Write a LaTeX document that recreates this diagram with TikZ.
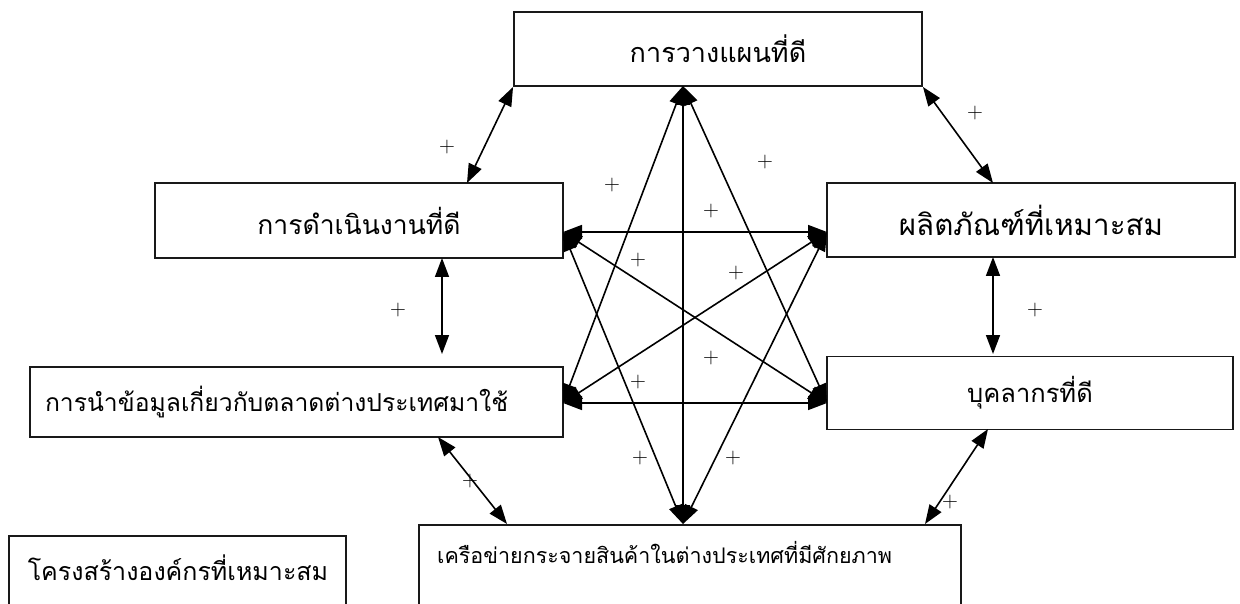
\documentclass[tikz,border=0pt]{standalone}
\usepackage{fontspec}
\newfontfamily\thaifont[Script=Thai]{Loma}
\usetikzlibrary{arrows.meta}
\newcommand{\tsz}[1]{\thaifont\fontsize{#1}{#1}\selectfont}
\begin{document}
\begin{tikzpicture}[x=1pt,y=-1pt,
  box/.style={draw=black!90, line width=1.9pt, inner sep=0pt, fill=white},
  txt/.style={inner sep=0pt},
  link/.style={line width=1.6pt, {Triangle[length=19pt,width=14pt]}-{Triangle[length=19pt,width=14pt]}},
  pl/.style={inner sep=0pt, font=\fontsize{22}{22}\selectfont}]
\path[use as bounding box, clip] (0,0) rectangle (1240,604);
\fill[white] (0,0) rectangle (1240,604);

% boxes
\node[box, minimum width=408pt, minimum height=74pt, font=\tsz{27}] (plan) at (718,49) {การวางแผนที่ดี};
\node[box, minimum width=408pt, minimum height=75pt, font=\tsz{26.5}] (oper) at (359,220.5) {การดำเนินงานที่ดี};
\node[box, minimum width=408pt, minimum height=74pt, font=\tsz{29.5}] (prod) at (1031,220) {ผลิตภัณฑ์ที่เหมาะสม};
\node[box, minimum width=533pt, minimum height=70pt, text width=503pt, inner xsep=15pt, align=left, font=\tsz{24.7}] (info) at (296.5,402) {การนำข้อมูลเกี่ยวกับตลาดต่างประเทศมาใช้};
\node[box, minimum width=406pt, minimum height=73pt, font=\tsz{25.5}] (staff) at (1030,393) {บุคลากรที่ดี};
\node[box, anchor=north west, minimum width=542pt, minimum height=120pt] (dist) at (418,524) {};
\node[txt, anchor=west, font=\tsz{21.5}] (distT) at (437,553) {เครือข่ายกระจายสินค้าในต่างประเทศที่มีศักยภาพ};
\node[box, anchor=north west, minimum width=337pt, minimum height=110pt] (org) at (8,535) {};
\node[txt, font=\tsz{25}] (orgT) at (178,568) {โครงสร้างองค์กรที่เหมาะสม};

% inner star points
\coordinate (pT) at (683,86);
\coordinate (pUL) at (563,232);
\coordinate (pUR) at (827,232);
\coordinate (pLL) at (563,403);
\coordinate (pLR) at (827,403);
\coordinate (pB) at (683,524);

\draw[link] (pT) -- (pB);
\draw[link] (pT) -- (pLL);
\draw[link] (pT) -- (pLR);
\draw[link] (pUL) -- (pUR);
\draw[link] (pLL) -- (pLR);
\draw[link] (pUL) -- (pLR);
\draw[link] (pLL) -- (pUR);
\draw[link] (pUL) -- (pB);
\draw[link] (pUR) -- (pB);

% outer arrows
\coordinate (a1) at (467,183);
\coordinate (a2) at (993,183);
\coordinate (a3s) at (442,258);
\coordinate (a3e) at (442,354);
\coordinate (a4s) at (993,257);
\coordinate (a4e) at (993,354);
\coordinate (a5s) at (438,437);
\coordinate (a5e) at (507,524);
\coordinate (a6s) at (988,429);
\coordinate (a6e) at (925,524);
\draw[link] (plan.south west) -- (a1);
\draw[link] (plan.south east) -- (a2);
\draw[link] (a3s) -- (a3e);
\draw[link] (a4s) -- (a4e);
\draw[link] (a5s) -- (a5e);
\draw[link] (a6s) -- (a6e);

% plus signs
\node[pl] (q1) at (447,147) {+};
\node[pl] (q2) at (975,113) {+};
\node[pl] (q3) at (398,310) {+};
\node[pl] (q4) at (1035,310) {+};
\node[pl] (q5) at (470,481) {+};
\node[pl] (q6) at (950,502) {+};
\node[pl] (q7) at (612,185) {+};
\node[pl] (q8) at (765,162) {+};
\node[pl] (q9) at (711,211) {+};
\node[pl] (q10) at (638,260) {+};
\node[pl] (q11) at (736,273) {+};
\node[pl] (q12) at (711,358) {+};
\node[pl] (q13) at (638,382) {+};
\node[pl] (q14) at (640,458) {+};
\node[pl] (q15) at (733,458) {+};
\end{tikzpicture}
\end{document}
